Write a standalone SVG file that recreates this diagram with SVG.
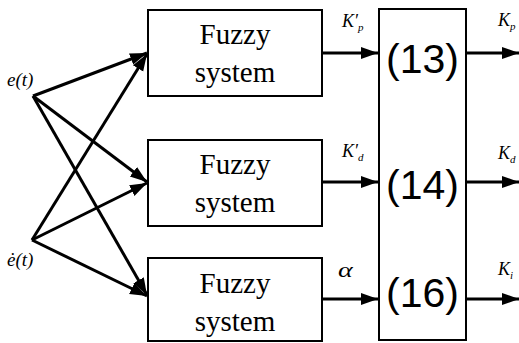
<svg xmlns="http://www.w3.org/2000/svg" width="519" height="343" viewBox="0 0 519 343">
<defs>
<marker id="ah" markerUnits="userSpaceOnUse" markerWidth="18" markerHeight="14" viewBox="0 0 18 14" refX="17" refY="7" orient="auto">
<path d="M0,1 L17,7 L0,13 Z" fill="#000"/>
</marker>
</defs>
<style>
.box{fill:#fff;stroke:#000;stroke-width:2}
.ln{stroke:#000;stroke-width:3;fill:none}
</style>
<g id="fuzzy1"><rect class="box" x="148" y="10" width="174" height="86"/><text font-family="'Liberation Serif'" font-size="29" text-anchor="middle" x="235" y="44">Fuzzy</text><text font-family="'Liberation Serif'" font-size="29" text-anchor="middle" x="235" y="82">system</text></g>
<g id="fuzzy2"><rect class="box" x="148" y="140" width="174" height="86"/><text font-family="'Liberation Serif'" font-size="29" text-anchor="middle" x="235" y="174">Fuzzy</text><text font-family="'Liberation Serif'" font-size="29" text-anchor="middle" x="235" y="212">system</text></g>
<g id="fuzzy3"><rect class="box" x="148" y="258" width="174" height="83"/><text font-family="'Liberation Serif'" font-size="29" text-anchor="middle" x="235" y="293">Fuzzy</text><text font-family="'Liberation Serif'" font-size="29" text-anchor="middle" x="235" y="331">system</text></g>
<g id="eqbox"><rect class="box" x="379" y="9" width="87" height="331"/><text font-family="'Liberation Sans'" font-size="41" text-anchor="middle" x="422.5" y="73">(13)</text><text font-family="'Liberation Sans'" font-size="41" text-anchor="middle" x="422.5" y="199">(14)</text><text font-family="'Liberation Sans'" font-size="41" text-anchor="middle" x="422.5" y="307">(16)</text></g>
<g id="e"><text font-family="'Liberation Serif'" font-style="italic" font-size="19" x="7" y="86">e(t)</text></g>
<g id="edot"><text font-family="'Liberation Serif'" font-style="italic" font-size="19" x="7" y="266">ė(t)</text></g>
<g id="connectors">
<line class="ln" x1="33" y1="96" x2="147" y2="53" marker-end="url(#ah)"/>
<line class="ln" x1="33" y1="96" x2="147" y2="182" marker-end="url(#ah)"/>
<line class="ln" x1="33" y1="96" x2="147" y2="295" marker-end="url(#ah)"/>
<line class="ln" x1="32" y1="240" x2="147" y2="54" marker-end="url(#ah)"/>
<line class="ln" x1="32" y1="240" x2="147" y2="183" marker-end="url(#ah)"/>
<line class="ln" x1="32" y1="240" x2="147" y2="296" marker-end="url(#ah)"/>
<line class="ln" x1="322" y1="53" x2="378" y2="53" marker-end="url(#ah)"/>
<line class="ln" x1="322" y1="182" x2="378" y2="182" marker-end="url(#ah)"/>
<line class="ln" x1="322" y1="299" x2="378" y2="299" marker-end="url(#ah)"/>
<line class="ln" x1="466" y1="53" x2="519" y2="53" marker-end="url(#ah)"/>
<line class="ln" x1="466" y1="182" x2="519" y2="182" marker-end="url(#ah)"/>
<line class="ln" x1="466" y1="299" x2="519" y2="299" marker-end="url(#ah)"/>
</g>
<g id="labels">
<text font-family="'Liberation Serif'" font-style="italic" font-size="18" x="342" y="27">K′<tspan font-size="11" dy="4">p</tspan></text>
<text font-family="'Liberation Serif'" font-style="italic" font-size="18" x="342" y="157">K′<tspan font-size="11" dy="4">d</tspan></text>
<text font-family="'Liberation Serif'" font-style="italic" font-size="20" transform="translate(338,277) scale(1.4,1)">α</text>
<text font-family="'Liberation Serif'" font-style="italic" font-size="18" x="498" y="26">K<tspan font-size="11" dy="4">p</tspan></text>
<text font-family="'Liberation Serif'" font-style="italic" font-size="18" x="498" y="159">K<tspan font-size="11" dy="4">d</tspan></text>
<text font-family="'Liberation Serif'" font-style="italic" font-size="18" x="498" y="275">K<tspan font-size="11" dy="4">i</tspan></text>
</g>
</svg>
